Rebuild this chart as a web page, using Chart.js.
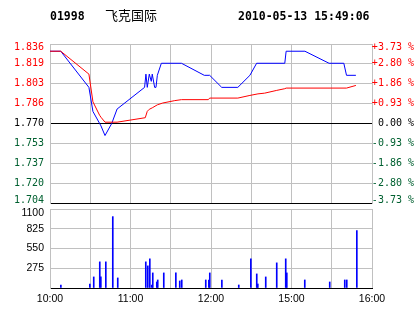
<!DOCTYPE html>
<html><head><meta charset="utf-8">
<script src="https://cdn.jsdelivr.net/npm/chart.js@4"></script>
<style>
html,body{margin:0;padding:0;background:#fff;}
#wrap{position:relative;width:414px;height:314px;overflow:hidden;background:#fff;}
canvas{position:absolute;left:0;top:0;}
.hd{position:absolute;white-space:nowrap;color:#000;}
.mono{font:bold 11.5px "DejaVu Sans Mono",monospace;line-height:13px;top:10px;}
.cjk{font:13px "Noto Sans CJK SC",sans-serif;line-height:13px;top:8px;left:105px;}
</style></head>
<body><div id="wrap">
<canvas id="c1" width="414" height="314"></canvas>
<canvas id="c2" width="414" height="314"></canvas>
<div class="hd mono" style="left:50px">01998</div>
<div class="hd cjk">飞克国际</div>
<div class="hd mono" style="left:238px">2010-05-13 15:49:06</div>
</div>
<script>
// ---- data ----
const timeLabels = ['10:00','11:00','12:00','15:00','16:00'];   // every 60 trading minutes
const timeLabelMinutes = [0,60,120,180,240];
const timeGridMinutes = [0,30,60,90,120,150,180,210,240];

const priceTickValues = [1.704,1.7205,1.737,1.7535,1.770,1.7865,1.803,1.8195,1.836];
const priceTickLabels = ['1.704','1.720','1.737','1.753','1.770','1.786','1.803','1.819','1.836'];
const pctTickValues = [-3.73,-2.7975,-1.865,-0.9325,0,0.9325,1.865,2.7975,3.73];
const pctTickLabels = ['-3.73 %','-2.80 %','-1.86 %','-0.93 %','0.00 %','+0.93 %','+1.86 %','+2.80 %','+3.73 %'];
const volTickValues = [0,275,550,825,1100];
const volTickLabels = ['','275','550','825','1100'];

// price (blue) — trading minute since 10:00, price
const priceMinutes = [0,8,29,32,37,38,41,46,50,70.5,71.5,72.5,74,75.5,76.2,78,79,80,83,98,115,119,128,140,149,154,175,176,190,208,219,221,228];
const prices = [1.83,1.83,1.80,1.78,1.77,1.768,1.76,1.77,1.782,1.80,1.811,1.80,1.811,1.805,1.811,1.80,1.80,1.81,1.82,1.82,1.81,1.81,1.80,1.80,1.81,1.82,1.82,1.83,1.83,1.82,1.82,1.81,1.81];

// average price (red)
const avgMinutes = [0,8,29,32,37,38,41,50,71,72.5,74,76.2,80,84,93,98,118,119,140,149,155,160,169,175,176,221,228];
const avgPrices = [1.83,1.83,1.811,1.788,1.7768,1.7752,1.7711,1.7711,1.7748,1.7801,1.7818,1.783,1.7855,1.787,1.789,1.7898,1.7898,1.7911,1.7911,1.7933,1.7946,1.7952,1.7975,1.7989,1.7994,1.7994,1.8016];

// volume bars
const volMinutes = [8.1,29.7,32.6,37.1,37.9,41.6,46.8,50.5,71.4,72.9,74.4,75.9,76.6,79.6,80.3,84.8,93.8,96.7,98.2,116.1,118.4,119.1,128.1,140.7,149.7,154.1,154.9,160.8,169.0,175.7,176.5,189.9,208.5,219.7,221.2,228.7];
const volumes = [42,56,154,364,154,364,994,140,364,308,406,42,210,84,112,210,210,98,112,112,112,210,112,42,406,196,56,154,350,406,210,112,84,112,112,798];

const RED='#ff0000', GREEN='#006030', GRAY='#c0c0c0', BLACK='#000000', BLUE='#0000ff';
const monoFont = {family:'DejaVu Sans Mono', size:10};
const sansFont = {family:'Liberation Sans', size:10.5};
const signColor = i => i>4 ? RED : (i===4 ? BLACK : GREEN);

// keeps the outermost tick labels of a panel inside the panel (styling only)
const edgeLabels = {
  id:'edgeLabels',
  beforeDraw(chart, args, opts){
    const cfg = opts.scales || {};
    for (const id of Object.keys(cfg)) {
      const s = chart.scales[id]; if (!s) continue;
      const items = s.getLabelItems();
      if (!items.length) continue;
      const apply = (it, dy) => {
        if (!it || it._edgeShifted || !dy) return;
        const t = it.options.translation;
        it.options.translation = [t[0], t[1] + dy];
        it._edgeShifted = true;
      };
      apply(items[0], cfg[id].first);
      apply(items[items.length-1], cfg[id].last);
    }
  }
};

const common = {
  responsive:false, animation:false, events:[]
};

new Chart(document.getElementById('c1'), {
  type:'line',
  plugins:[edgeLabels],
  data:{datasets:[
    {label:'均价', data: avgMinutes.map((t,i)=>({x:t,y:avgPrices[i]})), borderColor:RED, borderWidth:1, pointRadius:0, tension:0, fill:false, order:1, yAxisID:'y'},
    {label:'价格', data: priceMinutes.map((t,i)=>({x:t,y:prices[i]})), borderColor:BLUE, borderWidth:1, pointRadius:0, tension:0, fill:false, order:2, yAxisID:'y'}
  ]},
  options:Object.assign({}, common, {
    plugins:{legend:{display:false}, tooltip:{enabled:false}, title:{display:false},
      edgeLabels:{scales:{y:{first:-3,last:3}, yPct:{first:-3,last:3}}}},
    layout:{padding:{top:44,bottom:111,left:0,right:0}},
    scales:{
      x:{type:'linear', min:0, max:240,
         afterBuildTicks:a=>{a.ticks = timeGridMinutes.map(v=>({value:v}));},
         ticks:{display:false},
         grid:{color:GRAY, drawTicks:false, lineWidth:1},
         border:{color:BLACK, width:1},
         afterFit:a=>{a.height=0;}},
      y:{type:'linear', position:'left', min:priceTickValues[0], max:priceTickValues[8],
         afterBuildTicks:a=>{a.ticks = priceTickValues.map(v=>({value:v}));},
         ticks:{callback:(v,i)=>priceTickLabels[i], color:c=>signColor(c.index), font:monoFont, padding:6, autoSkip:false},
         grid:{color:c=>(c.index===0||c.index===4)?BLACK:GRAY, drawTicks:false, lineWidth:1},
         border:{color:GRAY, width:1},
         afterFit:a=>{a.width=50;}},
      yPct:{type:'linear', position:'right', min:-3.73, max:3.73,
         afterBuildTicks:a=>{a.ticks = pctTickValues.map(v=>({value:v}));},
         ticks:{callback:(v,i)=>pctTickLabels[i], color:c=>signColor(c.index), font:monoFont, padding:0, crossAlign:'far', autoSkip:false},
         grid:{drawOnChartArea:false, drawTicks:false},
         border:{color:GRAY, width:1},
         afterFit:a=>{a.width=42;}}
    }
  })
});

new Chart(document.getElementById('c2'), {
  type:'bar',
  plugins:[edgeLabels],
  data:{datasets:[
    {label:'成交量', data: volMinutes.map((t,i)=>({x:t,y:volumes[i]})), backgroundColor:BLUE, borderWidth:0, barThickness:1}
  ]},
  options:Object.assign({}, common, {
    plugins:{legend:{display:false}, tooltip:{enabled:false}, title:{display:false},
      edgeLabels:{scales:{y:{first:0,last:4}}}},
    layout:{padding:{top:209,bottom:0,left:0,right:42}},
    scales:{
      x:{type:'linear', min:0, max:240, offset:false,
         afterBuildTicks:a=>{a.ticks = timeGridMinutes.map(v=>({value:v}));},
         ticks:{callback:v=>{const k=timeLabelMinutes.indexOf(v); return k<0?'':timeLabels[k];}, color:BLACK, font:sansFont, padding:5, maxRotation:0, autoSkip:false},
         grid:{color:GRAY, drawTicks:false, offset:false, lineWidth:1},
         border:{color:BLACK, width:1},
         afterFit:a=>{a.height=26;}},
      y:{type:'linear', position:'left', min:0, max:1100,
         afterBuildTicks:a=>{a.ticks = volTickValues.map(v=>({value:v}));},
         ticks:{callback:(v,i)=>volTickLabels[i], color:BLACK, font:sansFont, padding:6, autoSkip:false},
         grid:{color:c=>c.index===0?BLACK:GRAY, drawTicks:false, lineWidth:1},
         border:{color:GRAY, width:1},
         afterFit:a=>{a.width=50;}}
    }
  })
});
</script>
</body></html>
